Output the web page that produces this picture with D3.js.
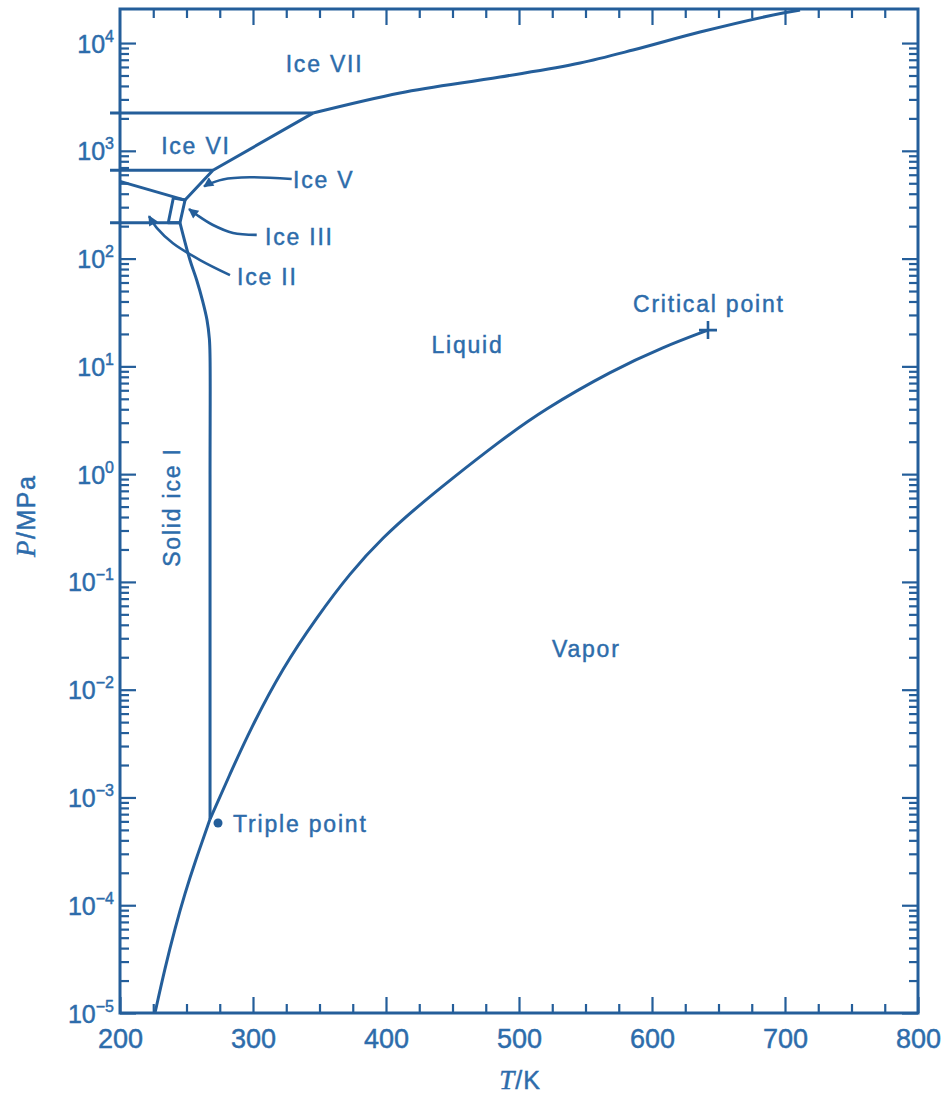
<!DOCTYPE html>
<html lang="en">
<head>
<meta charset="UTF-8">
<title>Phase diagram of water</title>
<script src="https://d3js.org/d3.v7.min.js"></script>
<style>
  body { margin: 0; background: #fff; }
  svg text { font-family: "Liberation Sans", Arial, Helvetica, sans-serif; fill: #2d6cab; stroke: #2d6cab; stroke-width: 0.45; }
  .curve { fill: none; stroke: #245e9a; stroke-width: 3; stroke-linejoin: round; }
  .pointer { fill: none; stroke: #245e9a; stroke-width: 2.6; }
  .tick line { stroke: #245e9a; stroke-width: 2.2; }
  .label { font-size: 23px; letter-spacing: 1.8px; }
</style>
</head>
<body>
<div id="chart"></div>
<script>
// axis ticks
const tempMajor = [200, 300, 400, 500, 600, 700, 800];
const tempMinor = d3.range(225, 800, 25).filter(t => t % 100 !== 0);
const pressureExp = [-5, -4, -3, -2, -1, 0, 1, 2, 3, 4];

// phase boundaries, [T in K, P in MPa]
const sublimation = [[226.3, 1.0e-5], [233.8, 2.61e-5], [241.4, 6.15e-5], [248.9, 1.30e-4],
  [256.4, 2.52e-4], [267.7, 6.3e-4]];
const vaporization = [[267.7, 6.3e-4], [282.7, 1.65e-3], [297.7, 4.23e-3], [322.6, 1.62e-2],
  [348.1, 4.72e-2], [372.9, 0.121], [397.8, 0.261], [423.3, 0.495], [448.1, 0.881],
  [485.7, 2.03], [518.1, 3.94], [570.7, 9.25], [608.3, 15.1], [642.1, 21.7]];
const meltingIceI = [[267.7, 6.3e-4], [267.7, 1], [267.7, 12], [267.2, 18], [265.4, 27],
  [262, 41], [257.7, 63], [252.6, 97], [245.1, 215]];
const iceIIIbox = [[240.1, 365], [248.9, 349], [245.1, 215], [236.3, 215], [240.1, 365]];
const iceIIvLine = [[200, 520], [248.9, 349]];
const iceVvi = [[248.9, 349], [269.9, 660], [345.1, 2240]];
const meltingIceVII = [[345.1, 2240], [410.5, 3440], [485.7, 4840], [545.9, 6520],
  [585.7, 8610], [636.1, 12650], [698.5, 18970], [711.3, 20230]];
const horizontals = [[[192.5, 215], [245.1, 215]], [[192.5, 660], [269.9, 660]],
  [[192.5, 2240], [345.1, 2240]]];

// label pointers
const arrowIceV = [[329.1, 547], [297.7, 568], [277.4, 543], [265.2, 482], [263.2, 467]];
const arrowIceIII = [[302.8, 166], [285, 173], [269.9, 205], [257.9, 254], [251.9, 288]];
const arrowIceII = [[282.7, 70.3], [260.2, 97], [239.8, 139], [227.8, 192], [221.8, 248]];

const criticalPoint = [642.1, 21.7];
const triplePoint = [273.7, 5.8e-4];

// region labels: text, T, P, anchor, rotated
const labels = [
  ["Ice VII", 353.8, 5380, "middle", false],
  ["Ice VI", 257.1, 933, "middle", false],
  ["Ice V", 330.1, 452, "start", false],
  ["Ice III", 309.0, 134, "start", false],
  ["Ice II", 288.0, 56.9, "start", false],
  ["Liquid", 461.3, 13.3, "middle", false],
  ["Critical point", 585.7, 31.9, "start", false],
  ["Vapor", 524.8, 0.0201, "start", false],
  ["Triple point", 285, 4.79e-4, "start", false],
  ["Solid ice I", 245.1, 0.495, "middle", true]
];

const width = 948, height = 1097;
const margin = {left: 120, right: 30, top: 9, bottom: 84};

const svg = d3.select("#chart").append("svg")
  .attr("width", width).attr("height", height);

const x = d3.scaleLinear().domain([200, 800]).range([margin.left, width - margin.right]);
const y = d3.scaleLog().domain([1e-5, 2.07e4]).range([height - margin.bottom, margin.top]);

const minorP = [];
pressureExp.slice(0, -1).forEach(e => {
  for (let k = 2; k <= 9; k++) minorP.push(k * Math.pow(10, e));
});
const majorP = pressureExp.map(e => Math.pow(10, e));

const x0 = x.range()[0], x1 = x.range()[1];
const y0 = y.range()[0], y1 = y.range()[1];

function clean(g) { g.select(".domain").remove(); }

// bottom + top axes
svg.append("g").attr("transform", `translate(0,${y0})`)
  .call(d3.axisBottom(x).tickValues(tempMajor).tickSize(-16).tickPadding(16).tickFormat(d3.format("d")))
  .call(clean)
  .call(g => g.selectAll("text").attr("font-size", 27).attr("fill", "#2d6cab"));
svg.append("g").attr("transform", `translate(0,${y0})`)
  .call(d3.axisBottom(x).tickValues(tempMinor).tickSize(-9).tickFormat(""))
  .call(clean);
svg.append("g").attr("transform", `translate(0,${y1})`)
  .call(d3.axisTop(x).tickValues(tempMajor.slice(1, -1)).tickSize(-16).tickFormat(""))
  .call(clean);
svg.append("g").attr("transform", `translate(0,${y1})`)
  .call(d3.axisTop(x).tickValues(tempMinor).tickSize(-9).tickFormat(""))
  .call(clean);

// left + right axes
svg.append("g").attr("transform", `translate(${x0},0)`)
  .call(d3.axisLeft(y).tickValues(majorP).tickSize(-16).tickPadding(6).tickFormat(""))
  .call(clean)
  .call(g => g.selectAll(".tick text").each(function(d) {
    const t = d3.select(this).attr("font-size", 25).attr("dy", "0.36em").attr("fill", "#2d6cab");
    const e = Math.round(Math.log10(d));
    t.append("tspan").text("10");
    t.append("tspan").attr("font-size", 16).attr("dy", -11)
      .text(e < 0 ? "\u2212" + Math.abs(e) : String(e));
  }));
svg.append("g").attr("transform", `translate(${x0},0)`)
  .call(d3.axisLeft(y).tickValues(minorP).tickSize(-9).tickFormat(""))
  .call(clean);
svg.append("g").attr("transform", `translate(${x1},0)`)
  .call(d3.axisRight(y).tickValues(majorP).tickSize(-16).tickFormat(""))
  .call(clean);
svg.append("g").attr("transform", `translate(${x1},0)`)
  .call(d3.axisRight(y).tickValues(minorP).tickSize(-9).tickFormat(""))
  .call(clean);

svg.selectAll(".tick line").attr("stroke", "#245e9a");

// frame
svg.append("rect")
  .attr("x", x0).attr("y", y1).attr("width", x1 - x0).attr("height", y0 - y1)
  .attr("fill", "none").attr("stroke", "#245e9a").attr("stroke-width", 3);

// phase boundaries
const line = d3.line().x(d => x(d[0])).y(d => y(d[1]));
const smooth = d3.line().x(d => x(d[0])).y(d => y(d[1])).curve(d3.curveCatmullRom.alpha(0.5));
const basis = d3.line().x(d => x(d[0])).y(d => y(d[1])).curve(d3.curveBasis);
const mono = d3.line().x(d => x(d[0])).y(d => y(d[1])).curve(d3.curveMonotoneX);

svg.append("path").datum(sublimation).attr("class", "curve").attr("d", basis);
svg.append("path").datum(vaporization).attr("class", "curve").attr("d", basis);
svg.append("path").datum(meltingIceI).attr("class", "curve").attr("d", smooth);
svg.append("path").datum(meltingIceVII).attr("class", "curve").attr("d", mono);
svg.append("path").datum(iceIIIbox).attr("class", "curve").attr("d", line);
svg.append("path").datum(iceIIvLine).attr("class", "curve").attr("d", line);
svg.append("path").datum(iceVvi).attr("class", "curve").attr("d", line);
horizontals.forEach(h => svg.append("path").datum(h).attr("class", "curve").attr("d", line));

// arrows
svg.append("defs").append("marker")
  .attr("id", "head").attr("viewBox", "0 -5 10 10")
  .attr("refX", 9).attr("refY", 0)
  .attr("markerWidth", 13).attr("markerHeight", 10)
  .attr("markerUnits", "userSpaceOnUse").attr("orient", "auto")
  .append("path").attr("d", "M0,-5L10,0L0,5Z").attr("fill", "#245e9a");

[arrowIceV, arrowIceIII, arrowIceII].forEach(a => {
  svg.append("path").datum(a).attr("class", "pointer")
    .attr("d", smooth).attr("marker-end", "url(#head)");
});

// critical point cross and triple point dot
const cx = x(criticalPoint[0]), cy = y(criticalPoint[1]);
svg.append("path")
  .attr("d", `M${cx - 9},${cy}H${cx + 9}M${cx},${cy - 9}V${cy + 9}`)
  .attr("stroke", "#245e9a").attr("stroke-width", 2.6);
svg.append("circle")
  .attr("cx", x(triplePoint[0])).attr("cy", y(triplePoint[1])).attr("r", 4.5)
  .attr("fill", "#245e9a");

// region labels
labels.forEach(([txt, T, P, anchor, rot]) => {
  const t = svg.append("text").attr("class", "label")
    .attr("text-anchor", anchor).text(txt);
  if (rot) t.attr("transform", `translate(${x(T)},${y(P)}) rotate(-90)`);
  else t.attr("x", x(T)).attr("y", y(P));
});

// axis titles
const xt = svg.append("text").attr("x", (x0 + x1) / 2 + 1).attr("y", 1089)
  .attr("text-anchor", "middle").attr("font-size", 25).attr("letter-spacing", 1);
xt.append("tspan").attr("font-family", "'Liberation Serif', 'Times New Roman', serif")
  .attr("font-style", "italic").attr("font-size", 27).text("T");
xt.append("tspan").text("/K");

const yt = svg.append("text")
  .attr("transform", `translate(35,${y(0.41)}) rotate(-90)`)
  .attr("text-anchor", "middle").attr("font-size", 25).attr("letter-spacing", 1.5);
yt.append("tspan").attr("font-family", "'Liberation Serif', 'Times New Roman', serif")
  .attr("font-style", "italic").attr("font-size", 27).text("P");
yt.append("tspan").text("/MPa");
</script>
</body>
</html>
